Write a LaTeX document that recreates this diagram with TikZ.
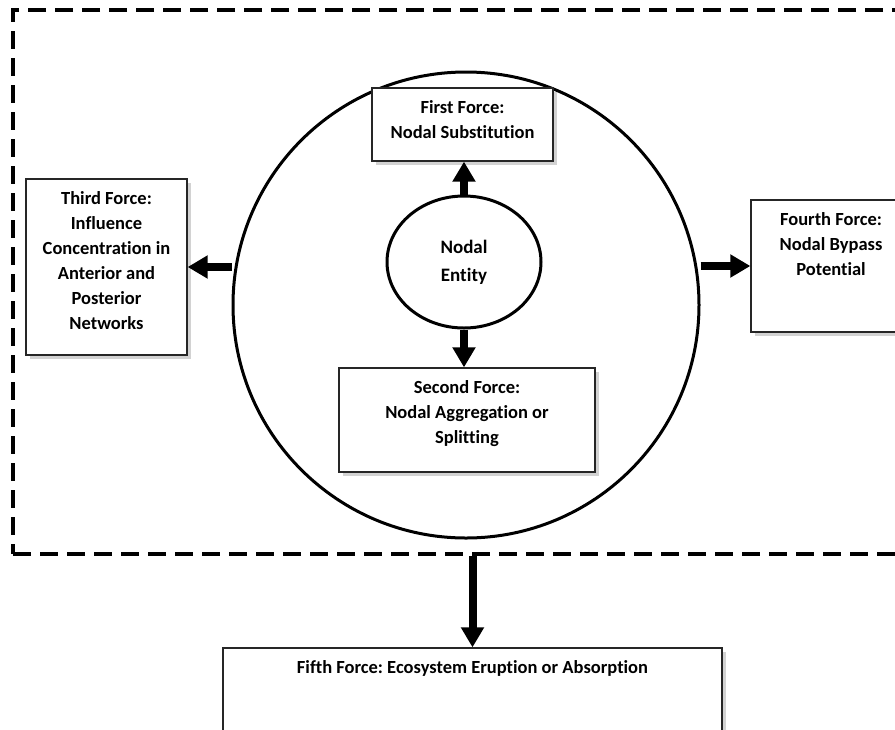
\documentclass[tikz,border=0pt]{standalone}
\usepackage{fontspec}
\setmainfont[Ligatures=NoCommon]{Carlito}
\usetikzlibrary{arrows.meta,shadows,shapes.geometric}
\frenchspacing
\newcommand{\forcetext}[3]{\parbox[c][#2][t]{#1}{\centering\vspace*{13pt}#3}}
\begin{document}
\begin{tikzpicture}[x=1pt,y=-1pt,font=\fontsize{18.5}{25}\selectfont\bfseries]
      \tikzstyle{forcebox}=[draw=black!85,line width=1.3pt,fill=white,inner sep=0pt,
        drop shadow={shadow xshift=4pt,shadow yshift=-4pt,opacity=0.35}]
      \tikzstyle{force}=[draw,line width=8pt,-{Triangle[width=22pt,length=20pt]}]
      \clip (0,0) rectangle (895,729);
      \fill[white] (0,0) rectangle (895,729);
      \node[draw,line width=4pt,dash pattern=on 18pt off 9pt,minimum width=892pt,minimum height=544pt,inner sep=0pt] (ecosystem) at (459,282) {};
      \node[draw,circle,line width=3pt,minimum size=466pt,inner sep=0pt] (core) at (466,305) {};
      \node[draw,ellipse,line width=3pt,minimum width=154pt,minimum height=132pt,inner sep=0pt,align=center,
        font=\fontsize{19}{28}\selectfont\bfseries] (entity) at (464,262) {Nodal\\Entity};
      \node[forcebox] (first) at (462.5,124.5) {\forcetext{181pt}{73pt}{First Force:\\Nodal Substitution}};
      \node[forcebox] (second) at (467,420) {\forcetext{256pt}{104pt}{Second Force:\\Nodal Aggregation or\\Splitting}};
      \node[forcebox] (third) at (106.5,267) {\forcetext{161pt}{176pt}{Third Force:\\Influence\\Concentration in\\Anterior and\\Posterior\\Networks}};
      \node[forcebox] (fourth) at (831,266) {\forcetext{160pt}{132pt}{Fourth Force:\\Nodal Bypass\\Potential}};
      \node[forcebox] (fifth) at (472.5,698) {\forcetext{499pt}{100pt}{Fifth Force: Ecosystem Eruption or Absorption}};
      \path[force] (entity.north) -- (entity.north |- first.south);
      \path[force] (entity.south) -- (entity.south |- second.north);
      \path[force] (core.west |- third.east) -- (third.east);
      \path[force] (core.east |- fourth.west) -- (fourth.west);
      \path[force] (fifth.north |- ecosystem.south) -- (fifth.north);
\end{tikzpicture}
\end{document}
